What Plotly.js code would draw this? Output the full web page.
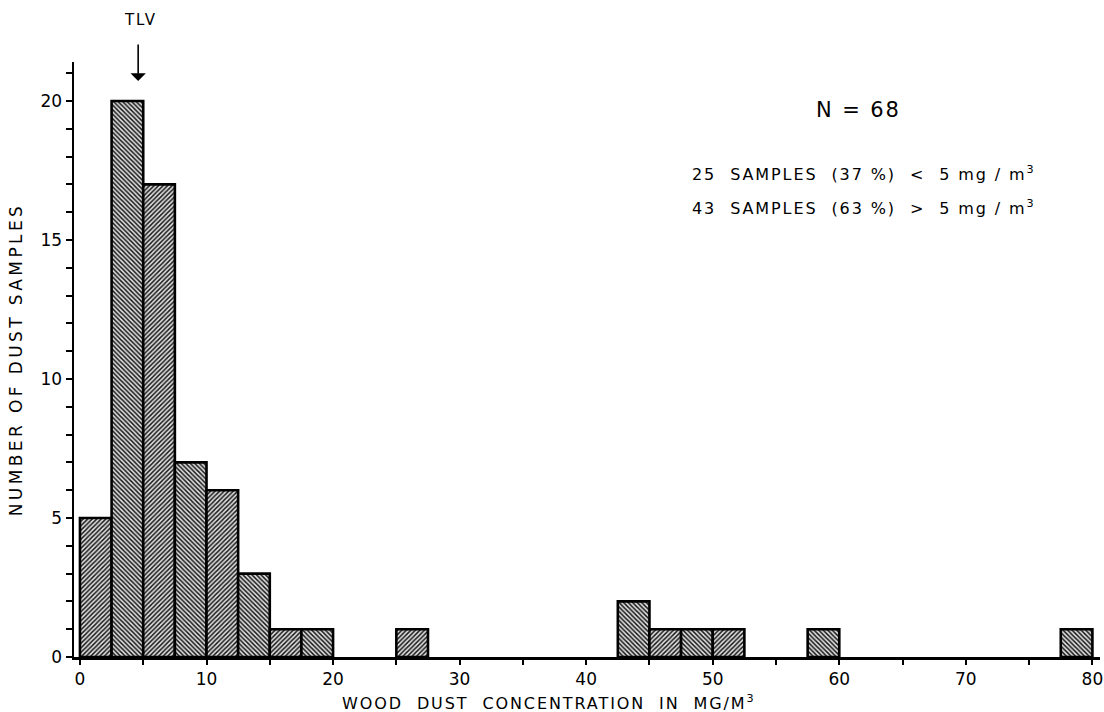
<!DOCTYPE html>
<html>
<head>
<meta charset="utf-8">
<script src="https://cdn.plot.ly/plotly-3.0.1.min.js"></script>
<style>
  html, body { margin: 0; padding: 0; background: #fff; }
  #chart { width: 1104px; height: 712px; }
  .ytitle { letter-spacing: 3.4px; }
  .annotation-text { letter-spacing: 1.9px; }
</style>
</head>
<body>
<div id="chart"></div>
<script>
// Bin left edges (mg/m3), bin width 2.5
const binLeft = [0, 2.5, 5, 7.5, 10, 12.5, 15, 17.5, 25, 42.5, 45, 47.5, 50, 57.5, 77.5];
const counts  = [5, 20, 17, 7, 6, 3, 1, 1, 1, 2, 1, 1, 1, 1, 1];
const binWidth = 2.5;
const xTickVals = [0, 10, 20, 30, 40, 50, 60, 70, 80];
const yTickVals = [0, 5, 10, 15, 20];
const tlvValue = 4.6;

const shapes = binLeft.map(b => (Math.round(b / binWidth) % 2 === 0) ? '/' : '\\');

const font = 'DejaVu Sans, Liberation Sans, sans-serif';

const trace = {
  type: 'bar',
  x: binLeft,
  y: counts,
  width: binWidth,
  offset: 0,
  marker: {
    color: '#ffffff',
    line: { color: '#000', width: 2.6 },
    pattern: { shape: shapes, fgcolor: '#1a1a1a', bgcolor: '#e2e2e2', size: 3.2, solidity: 0.47 }
  },
  hoverinfo: 'x+y'
};

const layout = {
  width: 1104, height: 712,
  margin: { l: 74, r: 4, t: 62, b: 55 },
  paper_bgcolor: '#fff', plot_bgcolor: '#fff',
  showlegend: false,
  bargap: 0,
  font: { family: font, color: '#000' },
  xaxis: {
    range: [-0.47, 80.6],
    showgrid: false, zeroline: false,
    showline: true, linecolor: '#000', linewidth: 2.5,
    tickmode: 'array', tickvals: xTickVals, ticktext: xTickVals.map(String),
    ticks: 'outside', ticklen: 5, tickwidth: 2, tickcolor: '#000',
    minor: { dtick: 5, tick0: 0, ticks: 'outside', ticklen: 5, tickwidth: 2, tickcolor: '#000', showgrid: false },
    tickfont: { size: 17, family: font, color: '#000' }
  },
  yaxis: {
    range: [0, 21.4],
    showgrid: false, zeroline: false,
    showline: true, linecolor: '#000', linewidth: 2.5,
    tickmode: 'array', tickvals: yTickVals, ticktext: yTickVals.map(String),
    ticks: 'outside', ticklen: 6, tickwidth: 2, tickcolor: '#000',
    minor: { dtick: 1, tick0: 0, ticks: 'outside', ticklen: 6, tickwidth: 2, tickcolor: '#000', showgrid: false },
    tickfont: { size: 17, family: font, color: '#000' },
    title: { text: 'NUMBER OF DUST SAMPLES', font: { size: 17, family: font, color: '#000' }, standoff: 14 }
  },
  annotations: [
    {
      xref: 'x', yref: 'paper', x: tlvValue, y: 0.968,
      text: '', showarrow: true, arrowhead: 1, arrowsize: 1.6, arrowwidth: 1.6, arrowcolor: '#000',
      ax: 0, ay: -38, axref: 'pixel', ayref: 'pixel'
    },
    {
      xref: 'x', yref: 'paper', x: tlvValue + 0.15, y: 1.07,
      text: 'TLV', showarrow: false, font: { size: 15, family: font, color: '#000' }, yanchor: 'middle'
    },
    {
      xref: 'paper', yref: 'paper', x: 0.765, y: 0.92,
      text: 'N = 68', showarrow: false, xanchor: 'center', yanchor: 'middle',
      font: { size: 21, family: font, color: '#000' }
    },
    {
      xref: 'paper', yref: 'paper', x: 0.600, y: 0.812,
      text: '25  SAMPLES  (37 %)  <  5 mg / m<sup>3</sup>', showarrow: false, xanchor: 'left', yanchor: 'middle',
      font: { size: 16, family: font, color: '#000' }
    },
    {
      xref: 'paper', yref: 'paper', x: 0.600, y: 0.756,
      text: '43  SAMPLES  (63 %)  >  5 mg / m<sup>3</sup>', showarrow: false, xanchor: 'left', yanchor: 'middle',
      font: { size: 16, family: font, color: '#000' }
    },
    {
      xref: 'paper', yref: 'paper', x: 0.463, y: 0, yshift: -45,
      text: 'WOOD  DUST  CONCENTRATION  IN  MG/M<sup>3</sup>', showarrow: false, xanchor: 'center', yanchor: 'middle',
      font: { size: 16, family: font, color: '#000' }
    }
  ]
};

Plotly.newPlot('chart', [trace], layout, { displayModeBar: false, staticPlot: true });
</script>
</body>
</html>
